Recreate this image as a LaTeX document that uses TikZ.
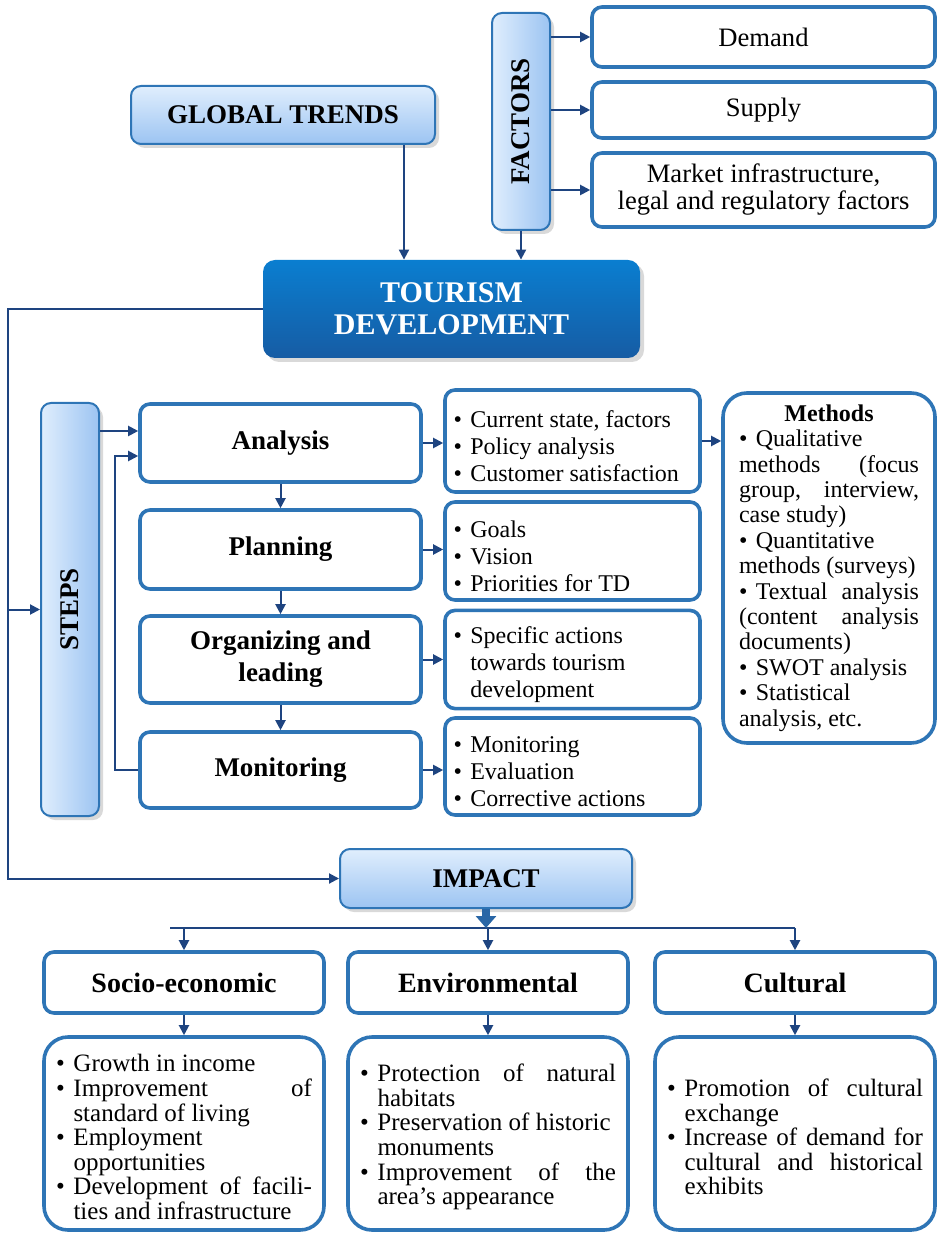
\documentclass[tikz,border=0pt]{standalone}
\usepackage{fontspec}
\setmainfont{Liberation Serif}
\usetikzlibrary{arrows.meta, shadows}
\definecolor{bordblue}{RGB}{46,117,182}
\definecolor{navy}{RGB}{30,68,128}
\definecolor{lightA}{RGB}{224,238,253}
\definecolor{lightB}{RGB}{156,196,242}
\definecolor{tdA}{RGB}{10,126,208}
\definecolor{tdB}{RGB}{22,92,164}
\newcommand{\dotmark}{\makebox[0.7em][l]{\textbullet}}
\newcommand{\bitem}[1]{\par\noindent\dotmark
    \parbox[t]{\dimexpr\hsize-0.7em\relax}{#1\par\xdef\lastdp{\the\prevdepth}}\par\prevdepth=\lastdp\relax}
\newcommand{\mitem}{\par\noindent\dotmark}

\begin{document}
\begin{tikzpicture}[x=0.5pt, y=-0.5pt, >={Triangle[length=5pt,width=5pt]},
    arr/.style={->, draw=navy, line width=1pt},
    shadowed/.style={drop shadow={opacity=0.3, shadow xshift=2pt, shadow yshift=-2pt}},
    lbox/.style={draw=bordblue, line width=1pt, rounded corners=5pt, top color=lightA, bottom color=lightB,
        shadowed, align=center, font=\bfseries\fontsize{13.5}{16}\selectfont},
    vbox/.style={draw=bordblue, line width=1pt, rounded corners=5pt, left color=lightA, right color=lightB,
        shadowed, font=\bfseries\fontsize{13.5}{16}\selectfont},
    wbox/.style={draw=bordblue, line width=1.8pt, rounded corners=5pt, fill=white},
    fbox/.style={wbox, minimum width=171.5pt, align=center, font=\fontsize{13.3}{13.5}\selectfont},
    stepbox/.style={wbox, minimum width=140.5pt, align=center, font=\bfseries\fontsize{13.5}{16}\selectfont},
    listbox/.style={wbox, minimum width=127.5pt, text width=119pt, inner sep=3pt, align=justify,
        font=\fontsize{12}{13.5}\selectfont},
    hbox/.style={wbox, minimum width=140pt, minimum height=30.5pt, font=\bfseries\fontsize{14}{16}\selectfont},
    btmbox/.style={wbox, rounded corners=12pt, minimum width=140pt, minimum height=96.5pt, text width=128pt,
        inner sep=3pt, align=justify, font=\fontsize{12.5}{12.3}\selectfont}]
    \useasboundingbox (0,0) rectangle (937,1234);

    \node[lbox, minimum width=152pt, minimum height=29pt] (gt) at (283,115) {GLOBAL TRENDS};
    \node[vbox, minimum width=29pt, minimum height=108.5pt] (fac) at (521,121.5) {\rotatebox{90}{FACTORS}};
    \node[fbox, minimum height=30pt] (d1) at (763.5,37) {Demand};
    \node[fbox, minimum height=28pt] (d2) at (763.5,110) {Supply};
    \node[fbox, minimum height=37pt] (d3) at (763.5,190) {Market infrastructure,\\legal and regulatory factors};
    \node[draw=none, rounded corners=6pt, top color=tdA, bottom color=tdB, shadowed, minimum width=188.5pt,
        minimum height=49pt, align=center, text=white, font=\bfseries\fontsize{15}{16}\selectfont]
        (td) at (451.5,309) {TOURISM\\DEVELOPMENT};

    \node[vbox, minimum width=29pt, minimum height=206.5pt] (st) at (70,609.5) {\rotatebox{90}{STEPS}};
    \node[stepbox, minimum height=39pt] (s1) at (280.5,443) {Analysis};
    \node[stepbox, minimum height=39.5pt] (s2) at (280.5,549.5) {Planning};
    \node[stepbox, minimum height=43.5pt] (s3) at (280.5,659.5) {Organizing and\\leading};
    \node[stepbox, minimum height=38pt] (s4) at (280.5,770) {Monitoring};

    \node[listbox, minimum height=51pt] (r1) at (572.5,441)
        {\bitem{Current state, factors}\bitem{Policy analysis}\bitem{Customer satisfaction}};
    \node[listbox, minimum height=49pt] (r2) at (572.5,551) {\bitem{Goals}\bitem{Vision}\bitem{Priorities for TD}};
    \node[listbox, minimum height=47.5pt] (r3) at (572.5,659.5)
        {\bitem{Specific actions\newline towards tourism\newline development}};
    \node[listbox, minimum height=48.5pt] (r4) at (572.5,766.5)
        {\bitem{Monitoring}\bitem{Evaluation}\bitem{Corrective actions}};
    \node[wbox, rounded corners=12pt, minimum width=106pt, minimum height=175pt, text width=90pt, inner sep=2pt,
        align=justify, font=\fontsize{12}{12.7}\selectfont] (me) at (829,568)
        {{\centering\bfseries Methods\par}
        \mitem Qualitative\newline methods (focus\linebreak group, interview,\linebreak case study)
        \mitem Quantitative\newline methods (surveys)
        \mitem Textual analysis\linebreak (content analysis\linebreak documents)
        \mitem SWOT analysis
        \mitem Statistical\newline analysis, etc.};

    \node[lbox, minimum width=146pt, minimum height=29.5pt] (imp) at (486,878.5) {IMPACT};
    \node[hbox] (h1) at (184,982.5) {Socio-economic};
    \node[hbox] (h2) at (488,982.5) {Environmental};
    \node[hbox] (h3) at (795,982.5) {Cultural};
    \node[btmbox] (b1) at (184,1133.5)
        {\bitem{Growth in income}
        \bitem{Improvement of\linebreak standard of living}
        \bitem{Employment\newline opportunities}
        \bitem{Development of facili-\linebreak ties and infrastructure}};
    \node[btmbox] (b2) at (488,1133.5)
        {\bitem{Protection of natural\linebreak habitats}
        \bitem{Preservation of historic\newline monuments}
        \bitem{Improvement of the\linebreak area’s appearance}};
    \node[btmbox] (b3) at (795,1133.5)
        {\bitem{Promotion of cultural\linebreak exchange}
        \bitem{Increase of demand for\linebreak cultural and historical\linebreak exhibits}};

    \foreach \d in {d1, d2, d3}{\draw[arr] (fac.east |- \d.west) -- (\d.west);}
    \coordinate (g) at ([xshift=-16pt]gt.south east);
    \draw[arr] (g) -- (g |- td.north);
    \draw[arr] (fac.south) -- (fac.south |- td.north);

    \coordinate (lc) at (8,878.5);
    \draw[arr] (td.west) -| (lc) -- (imp.west);
    \draw[arr] (lc |- st.west) -- (st.west);
    \coordinate (a1) at ([yshift=6pt]s1.west);
    \coordinate (a2) at ([yshift=-6.5pt]s1.west);
    \draw[arr] (a1 -| st.east) -- (a1);
    \draw[arr] (s4.west) -- ++(-11.5pt,0) |- (a2);
    \foreach \k/\l in {s1/s2, s2/s3, s3/s4}{\draw[arr] (\k) -- (\l);}
    \foreach \k/\l in {s1/r1, s2/r2, s3/r3, s4/r4}{\draw[arr] (\k.east) -- (\k.east -| \l.west);}
    \draw[arr] (r1.east) -- (r1.east -| me.west);

    \coordinate (bar) at (0,928);
    \draw[navy, line width=1pt] ([xshift=-7pt]h1.north |- bar) -- (h3.north |- bar);
    \draw[-{Triangle[length=6pt,width=10pt]}, draw=bordblue!70!navy, line width=4pt] (imp.south) -- (imp.south |- bar);
    \foreach \k/\l in {h1/b1, h2/b2, h3/b3}{
        \draw[arr] (\k.north |- bar) -- (\k.north);
        \draw[arr] (\k) -- (\l);}
\end{tikzpicture}
\end{document}
